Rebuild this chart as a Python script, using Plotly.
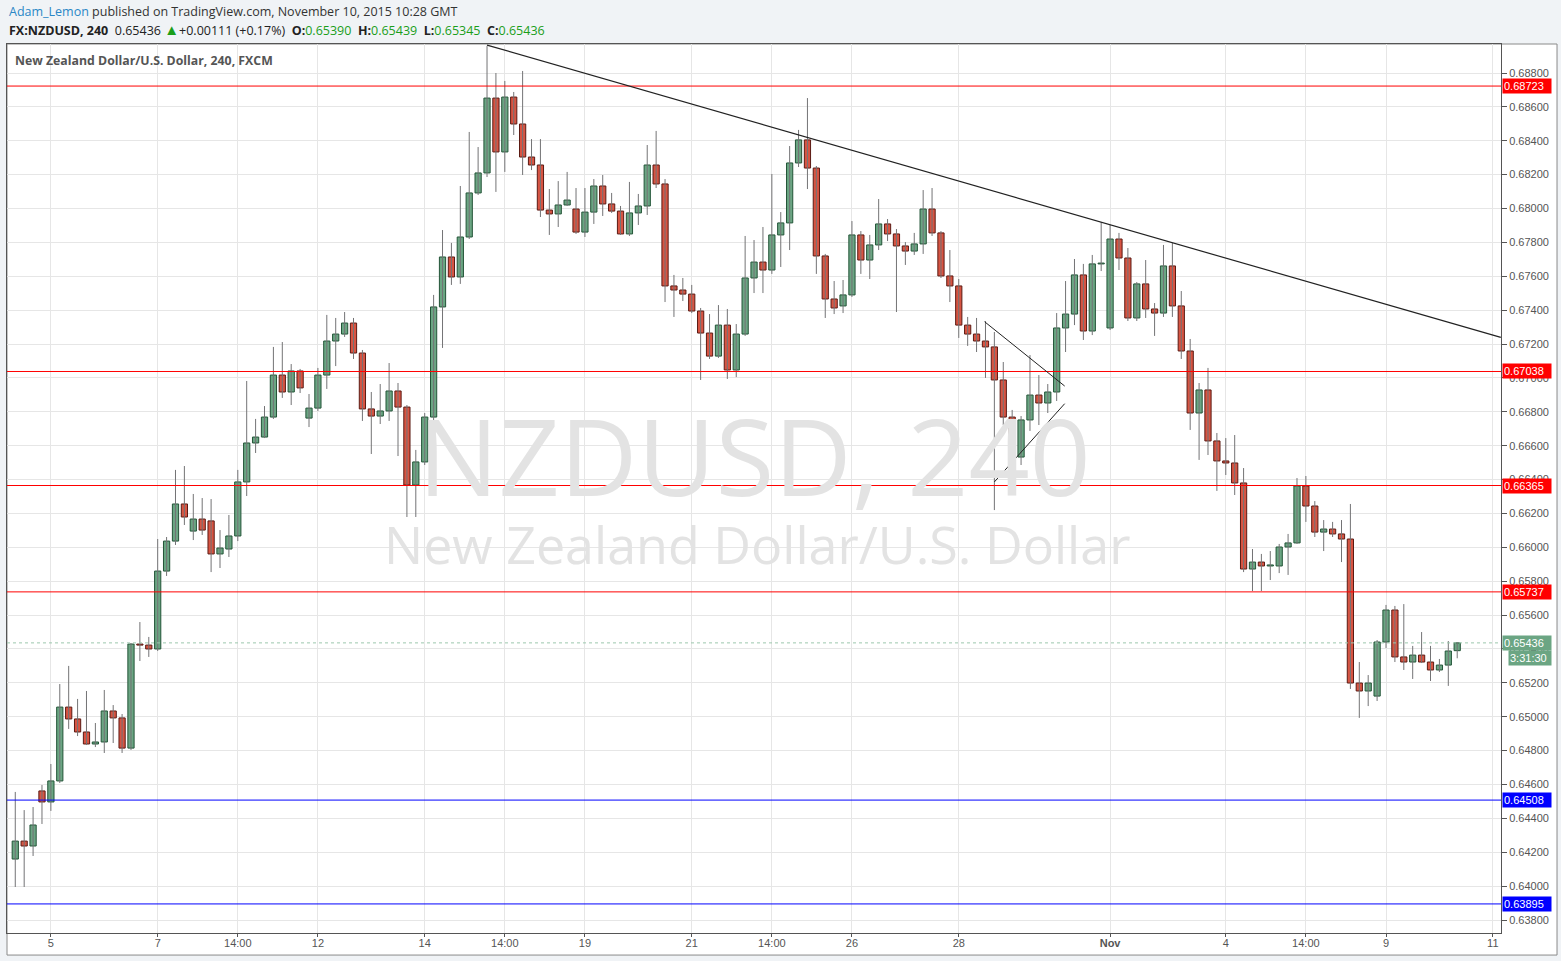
import plotly.graph_objects as go

# ---------------- data (4H candles, NZDUSD, FXCM) ----------------
bar_index = list(range(163))

opens = [0.64160, 0.64266, 0.64237, 0.64562, 0.64497, 0.64621, 0.65057, 0.64987, 0.64910, 0.64839,
         0.64851, 0.65034, 0.64993, 0.64815, 0.65429, 0.65423, 0.65400, 0.65860, 0.66037, 0.66256,
         0.66096, 0.66167, 0.66156, 0.65961, 0.65990, 0.66067, 0.66386, 0.66616, 0.66651, 0.66769,
         0.67017, 0.66917, 0.67041, 0.66763, 0.66822, 0.67017, 0.67218, 0.67259, 0.67324, 0.67147,
         0.66817, 0.66775, 0.66805, 0.66923, 0.66828, 0.66368, 0.66504, 0.66769, 0.67419, 0.67714,
         0.67596, 0.67832, 0.68092, 0.68210, 0.68652, 0.68334, 0.68658, 0.68499, 0.68304, 0.68257,
         0.67991, 0.67968, 0.68021, 0.67997, 0.67861, 0.67979, 0.68133, 0.68027, 0.67985, 0.67850,
         0.67974, 0.68015, 0.68257, 0.68145, 0.67543, 0.67519, 0.67495, 0.67395, 0.67265, 0.67129,
         0.67312, 0.67047, 0.67259, 0.67590, 0.67684, 0.67637, 0.67844, 0.67915, 0.68269, 0.68405,
         0.68239, 0.67720, 0.67466, 0.67425, 0.67490, 0.67844, 0.67696, 0.67785, 0.67909, 0.67850,
         0.67779, 0.67749, 0.67791, 0.67997, 0.67856, 0.67602, 0.67543, 0.67312, 0.67259, 0.67218,
         0.67183, 0.66988, 0.66769, 0.66533, 0.66752, 0.66899, 0.66852, 0.66917, 0.67295, 0.67377,
         0.67608, 0.67277, 0.67673, 0.67295, 0.67820, 0.67708, 0.67354, 0.67555, 0.67407, 0.67383,
         0.67661, 0.67425, 0.67159, 0.66793, 0.66929, 0.66628, 0.66510, 0.66498, 0.66380, 0.65872,
         0.65913, 0.65890, 0.65890, 0.66002, 0.66026, 0.66362, 0.66244, 0.66090, 0.66108, 0.66079,
         0.66049, 0.65199, 0.65152, 0.65122, 0.65441, 0.65630, 0.65353, 0.65323, 0.65364, 0.65323,
         0.65276, 0.65305, 0.65390]

highs = [0.64556, 0.64449, 0.64467, 0.64597, 0.64721, 0.65193, 0.65300, 0.65105, 0.65152, 0.64963,
         0.65158, 0.65069, 0.65016, 0.65435, 0.65559, 0.65471, 0.66049, 0.66061, 0.66457, 0.66480,
         0.66315, 0.66291, 0.66285, 0.66102, 0.66191, 0.66457, 0.66982, 0.66758, 0.66834, 0.67183,
         0.67212, 0.67082, 0.67053, 0.66905, 0.67059, 0.67372, 0.67354, 0.67389, 0.67354, 0.67165,
         0.66917, 0.66964, 0.67088, 0.66970, 0.66840, 0.66575, 0.66793, 0.67490, 0.67873, 0.67797,
         0.68133, 0.68452, 0.68363, 0.68959, 0.68800, 0.68753, 0.68688, 0.68812, 0.68410, 0.68410,
         0.68115, 0.68162, 0.68216, 0.68121, 0.68121, 0.68174, 0.68198, 0.68092, 0.68015, 0.68157,
         0.68086, 0.68375, 0.68458, 0.68174, 0.67608, 0.67590, 0.67549, 0.67413, 0.67377, 0.67430,
         0.67407, 0.67318, 0.67838, 0.67814, 0.67891, 0.68204, 0.67979, 0.68369, 0.68464, 0.68652,
         0.68251, 0.67732, 0.67572, 0.67578, 0.67926, 0.67867, 0.67844, 0.68056, 0.67938, 0.67879,
         0.67802, 0.67856, 0.68109, 0.68121, 0.67867, 0.67755, 0.67584, 0.67360, 0.67354, 0.67336,
         0.67271, 0.67094, 0.66811, 0.66775, 0.67135, 0.67017, 0.66964, 0.67383, 0.67572, 0.67702,
         0.67673, 0.67726, 0.67920, 0.67903, 0.67856, 0.67767, 0.67566, 0.67696, 0.67442, 0.67785,
         0.67797, 0.67513, 0.67230, 0.66970, 0.67059, 0.66675, 0.66645, 0.66663, 0.66468, 0.65990,
         0.65961, 0.65978, 0.66020, 0.66079, 0.66409, 0.66421, 0.66273, 0.66161, 0.66150, 0.66161,
         0.66256, 0.65323, 0.65246, 0.65453, 0.65660, 0.65654, 0.65665, 0.65418, 0.65500, 0.65418,
         0.65341, 0.65447, 0.65439]

lows = [0.63995, 0.63995, 0.64178, 0.64367, 0.64444, 0.64609, 0.64928, 0.64886, 0.64833, 0.64821,
        0.64786, 0.64845, 0.64786, 0.64804, 0.65329, 0.65353, 0.65388, 0.65831, 0.66014, 0.66132,
        0.66043, 0.66073, 0.65854, 0.65878, 0.65943, 0.66037, 0.66303, 0.66557, 0.66645, 0.66758,
        0.66882, 0.66840, 0.66911, 0.66710, 0.66805, 0.66935, 0.67070, 0.67242, 0.67112, 0.66746,
        0.66551, 0.66728, 0.66746, 0.66539, 0.66179, 0.66179, 0.66486, 0.66651, 0.67177, 0.67549,
        0.67555, 0.67820, 0.68080, 0.68186, 0.68098, 0.68216, 0.68434, 0.68198, 0.68227, 0.67950,
        0.67844, 0.67891, 0.68015, 0.67850, 0.67832, 0.67909, 0.67956, 0.67974, 0.67844, 0.67838,
        0.67903, 0.67962, 0.68121, 0.67448, 0.67360, 0.67454, 0.67383, 0.66988, 0.67112, 0.67118,
        0.66994, 0.67005, 0.67248, 0.67501, 0.67501, 0.67614, 0.67655, 0.67755, 0.68245, 0.68115,
        0.67614, 0.67354, 0.67377, 0.67383, 0.67478, 0.67614, 0.67584, 0.67755, 0.67808, 0.67389,
        0.67667, 0.67726, 0.67732, 0.67838, 0.67590, 0.67448, 0.67236, 0.67189, 0.67153, 0.67000,
        0.66220, 0.66722, 0.66516, 0.66486, 0.66687, 0.66722, 0.66793, 0.66864, 0.67153, 0.67312,
        0.67224, 0.67253, 0.67631, 0.67283, 0.67637, 0.67336, 0.67336, 0.67354, 0.67248, 0.67360,
        0.67360, 0.67112, 0.66693, 0.66516, 0.66545, 0.66333, 0.66427, 0.66309, 0.65854, 0.65742,
        0.65742, 0.65807, 0.65848, 0.65837, 0.66020, 0.66150, 0.66061, 0.65978, 0.66061, 0.65913,
        0.65164, 0.64993, 0.65063, 0.65093, 0.65406, 0.65323, 0.65276, 0.65223, 0.65317, 0.65211,
        0.65264, 0.65182, 0.65345]

closes = [0.64266, 0.64237, 0.64361, 0.64497, 0.64621, 0.65057, 0.64987, 0.64910, 0.64839, 0.64851,
          0.65034, 0.64993, 0.64815, 0.65429, 0.65423, 0.65400, 0.65860, 0.66037, 0.66256, 0.66179,
          0.66167, 0.66102, 0.65961, 0.65996, 0.66067, 0.66386, 0.66616, 0.66651, 0.66769, 0.67017,
          0.66917, 0.67041, 0.66941, 0.66822, 0.67017, 0.67218, 0.67259, 0.67324, 0.67147, 0.66817,
          0.66775, 0.66805, 0.66923, 0.66828, 0.66368, 0.66504, 0.66769, 0.67419, 0.67714, 0.67596,
          0.67832, 0.68092, 0.68210, 0.68652, 0.68334, 0.68658, 0.68499, 0.68304, 0.68257, 0.67991,
          0.67968, 0.68021, 0.68050, 0.67861, 0.67979, 0.68133, 0.68027, 0.67985, 0.67850, 0.67974,
          0.68015, 0.68257, 0.68145, 0.67543, 0.67519, 0.67495, 0.67395, 0.67265, 0.67129, 0.67312,
          0.67047, 0.67259, 0.67590, 0.67684, 0.67637, 0.67844, 0.67915, 0.68269, 0.68405, 0.68239,
          0.67720, 0.67466, 0.67413, 0.67490, 0.67844, 0.67696, 0.67785, 0.67909, 0.67850, 0.67779,
          0.67749, 0.67791, 0.67997, 0.67856, 0.67602, 0.67543, 0.67312, 0.67259, 0.67218, 0.67183,
          0.66988, 0.66769, 0.66533, 0.66752, 0.66899, 0.66852, 0.66917, 0.67295, 0.67377, 0.67608,
          0.67277, 0.67673, 0.67678, 0.67820, 0.67708, 0.67354, 0.67555, 0.67407, 0.67383, 0.67661,
          0.67425, 0.67159, 0.66793, 0.66929, 0.66628, 0.66510, 0.66498, 0.66380, 0.65872, 0.65913,
          0.65890, 0.65896, 0.66002, 0.66026, 0.66362, 0.66244, 0.66090, 0.66108, 0.66079, 0.66049,
          0.65199, 0.65152, 0.65199, 0.65441, 0.65630, 0.65353, 0.65323, 0.65364, 0.65323, 0.65276,
          0.65305, 0.65388, 0.65436]

tick_bars = [4, 16, 25, 34, 46, 55, 64, 76, 85, 94, 106, 123, 136, 145, 154, 166]
tick_labels = ["5", "7", "14:00", "12", "14", "14:00", "19", "21", "14:00", "26", "28",
               "<b>Nov</b>", "4", "14:00", "9", "11"]

resistance_levels = [0.68723, 0.67038, 0.66365, 0.65737]   # red lines
support_levels = [0.64508, 0.63895]                         # blue lines
last_price = 0.65436
countdown = "3:31:30"

# drawn trend lines: (bar index, price)
trend_down_x = [53.0, 166.9]
trend_down_y = [0.68965, 0.67239]
wedge_upper_x = [108.9, 117.9]
wedge_upper_y = [0.67332, 0.66952]
wedge_lower_x = [110.0, 117.9]
wedge_lower_y = [0.66386, 0.66848]

# ---------------- styling ----------------
UP_FILL, UP_LINE = "#6ba583", "#225437"
DN_FILL, DN_LINE = "#d75442", "#5b1a13"
WICK = "#737375"
GRID = "#e6e6e6"
AXIS = "#555555"
BG = "#f0f3f6"
TXT_FONT = "Open Sans, Liberation Sans, Arial, sans-serif"

fig = go.Figure()

# wicks
wx, wy = [], []
for i, lo, hi in zip(bar_index, lows, highs):
    wx += [i, i, None]
    wy += [lo, hi, None]
fig.add_trace(go.Scatter(x=wx, y=wy, mode="lines", line=dict(color=WICK, width=1),
                         hoverinfo="skip", showlegend=False))

# bodies
is_up = [c >= o for o, c in zip(opens, closes)]
base = [min(o, c) for o, c in zip(opens, closes)]
height = [max(abs(c - o), 0.00002) for o, c in zip(opens, closes)]
fig.add_trace(go.Bar(
    x=bar_index, y=height, base=base, width=0.7,
    marker=dict(color=[UP_FILL if u else DN_FILL for u in is_up],
                line=dict(color=[UP_LINE if u else DN_LINE for u in is_up], width=1)),
    hoverinfo="skip", showlegend=False))

shapes = []
for lv in resistance_levels:
    shapes.append(dict(type="line", xref="paper", x0=0, x1=1, yref="y", y0=lv, y1=lv,
                       line=dict(color="#ff0000", width=1), layer="above"))
for lv in support_levels:
    shapes.append(dict(type="line", xref="paper", x0=0, x1=1, yref="y", y0=lv, y1=lv,
                       line=dict(color="#0000ff", width=1), layer="above"))
shapes.append(dict(type="line", xref="paper", x0=0, x1=1, yref="y", y0=last_price, y1=last_price,
                   line=dict(color="#9cc7ad", width=1, dash="dot"), layer="above"))
for xs, ys, w in [(trend_down_x, trend_down_y, 1.2), (wedge_upper_x, wedge_upper_y, 1),
                  (wedge_lower_x, wedge_lower_y, 1)]:
    shapes.append(dict(type="line", xref="x", yref="y", x0=xs[0], x1=xs[1], y0=ys[0], y1=ys[1],
                       line=dict(color="#222222", width=w), layer="above"))
# widget frame (price scale + time scale panels)
shapes.append(dict(type="rect", xref="paper", yref="paper", x0=0, x1=1.0375, y0=-0.0248, y1=1.0,
                   line=dict(color="#8a8a8a", width=1), fillcolor="white", layer="below"))

annotations = []
# price-scale labels
def price_box(y, text, bg, dy=0, dx=0):
    return dict(xref="paper", yref="y", x=1, y=y, xanchor="left", yanchor="middle",
                xshift=1 + dx, yshift=dy, text=text, showarrow=False,
                font=dict(family="Liberation Sans, Arial", size=11, color="white"),
                bgcolor=bg, borderpad=1, width=46 - dx, align="left")

for lv in resistance_levels:
    annotations.append(price_box(lv, f"{lv:.5f}", "#ff0000"))
for lv in support_levels:
    annotations.append(price_box(lv, f"{lv:.5f}", "#0000ff"))
annotations.append(price_box(last_price, f"{last_price:.5f}", "#6ba583"))
annotations.append(price_box(last_price, countdown, "#6ba583", dy=-15, dx=6))

# watermark
annotations.append(dict(xref="paper", yref="paper", x=0.50, y=0.538, text="NZDUSD, 240",
                        showarrow=False, font=dict(family="Open Sans, DejaVu Sans", size=107,
                                                   color="#e3e3e3"),
                        xanchor="center", yanchor="middle"))
annotations.append(dict(xref="paper", yref="paper", x=0.502, y=0.438,
                        text="New Zealand Dollar/U.S. Dollar", showarrow=False,
                        font=dict(family="Open Sans, DejaVu Sans", size=52, color="#e3e3e3"),
                        xanchor="center", yanchor="middle"))
# in-chart legend
annotations.append(dict(xref="paper", yref="paper", x=0, y=1, xanchor="left", yanchor="middle",
                        xshift=6, yshift=-16, showarrow=False,
                        text="<b>New Zealand Dollar/U.S. Dollar, 240, FXCM</b>",
                        font=dict(family=TXT_FONT, size=12.3, color="#555555")))
# header
annotations.append(dict(xref="paper", yref="paper", x=0, y=1, xanchor="left", yanchor="middle",
                        xshift=0, yshift=33, showarrow=False,
                        text="<span style='color:#2a87c6'>Adam_Lemon</span> published on TradingView.com, November 10, 2015 10:28 GMT",
                        font=dict(family=TXT_FONT, size=12.5, color="#333333")))
G = "#1a9e1a"
annotations.append(dict(xref="paper", yref="paper", x=0, y=1, xanchor="left", yanchor="middle",
                        xshift=0, yshift=15, showarrow=False,
                        text=("<b>FX:NZDUSD, 240</b>  0.65436 <span style='color:%s;font-size:15px'>▲</span>+0.00111 (+0.17%%)  "
                              "<b>O:</b><span style='color:%s'>0.65390</span>  <b>H:</b><span style='color:%s'>0.65439</span>  "
                              "<b>L:</b><span style='color:%s'>0.65345</span>  <b>C:</b><span style='color:%s'>0.65436</span>")
                             % (G, G, G, G, G),
                        font=dict(family=TXT_FONT, size=12.5, color="#222222")))

fig.update_layout(
    width=1561, height=961, autosize=False,
    margin=dict(l=7, r=60, t=44, b=28),
    paper_bgcolor=BG, plot_bgcolor="white",
    barmode="overlay", showlegend=False,
    shapes=shapes, annotations=annotations,
    xaxis=dict(range=[-0.93, 166.92], tickmode="array", tickvals=tick_bars, ticktext=tick_labels,
               showgrid=True, gridcolor=GRID, gridwidth=1, zeroline=False,
               showline=True, linecolor=AXIS, linewidth=1, mirror=True,
               ticks="outside", ticklen=3, tickcolor=AXIS, ticklabelstandoff=-3,
               tickfont=dict(family="Liberation Sans Narrow, Liberation Sans, Arial", size=11, color="#555555"),
               fixedrange=True),
    yaxis=dict(range=[0.637234, 0.689712], side="right", tick0=0.638, dtick=0.002,
               tickformat=".5f", showgrid=True, gridcolor=GRID, gridwidth=1, zeroline=False,
               showline=True, linecolor=AXIS, linewidth=1, mirror=True,
               ticks="outside", ticklen=5, tickcolor=AXIS,
               tickfont=dict(family="Liberation Sans, Arial", size=11, color="#555555"),
               fixedrange=True),
)

fig.write_html("out.html", config={"displayModeBar": False},
               post_script="document.body.style.margin='0';document.body.style.background='%s';" % BG)
